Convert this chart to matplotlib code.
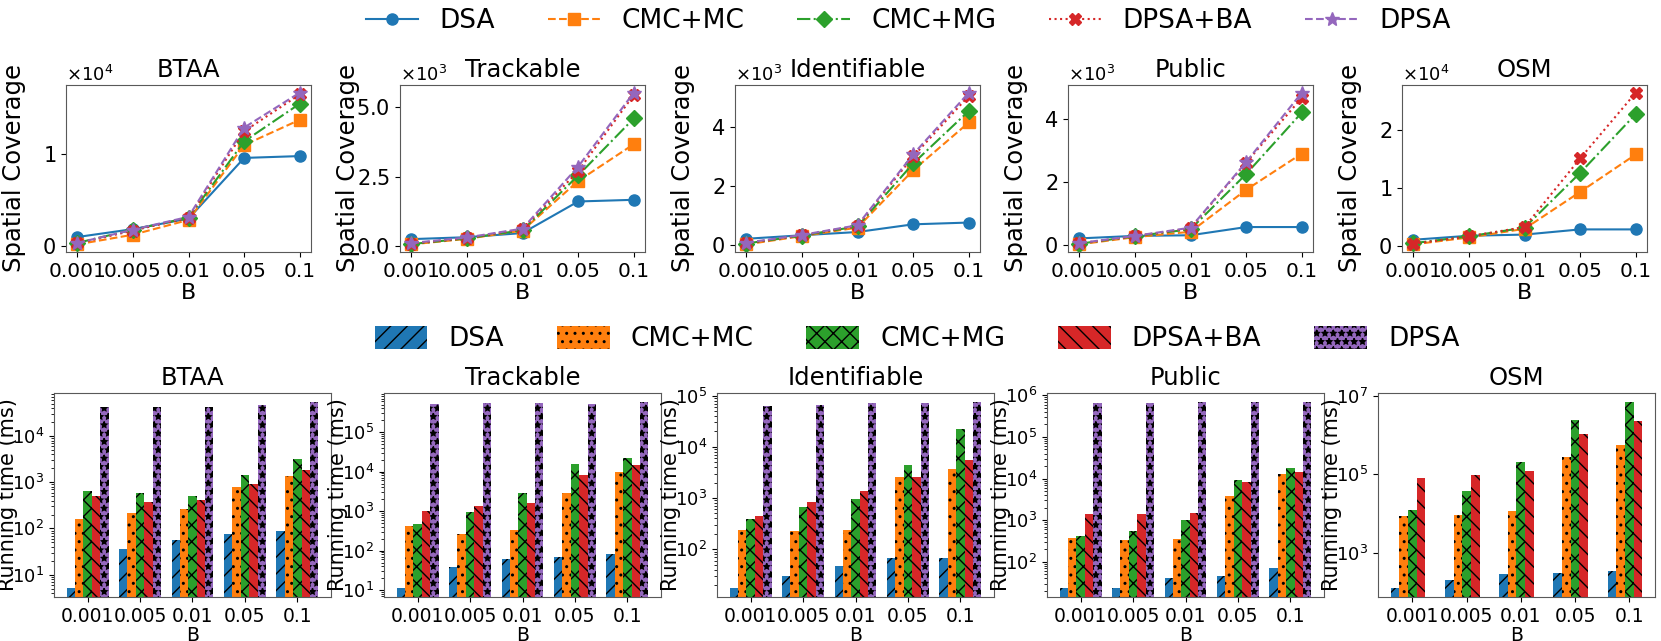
import numpy as np
import matplotlib
matplotlib.use('Agg')
import matplotlib.pyplot as plt

plt.rcParams['font.family'] = ['DejaVu Sans']
plt.rcParams['hatch.color'] = 'black'
plt.rcParams['hatch.linewidth'] = 1.0

B_labels = ['0.001', '0.005', '0.01', '0.05', '0.1']
methods = ['DSA', 'CMC+MC', 'CMC+MG', 'DPSA+BA', 'DPSA']
datasets = ['BTAA', 'Trackable', 'Identifiable', 'Public', 'OSM']

# spatial coverage (top row)
cov_btaa = [
    [1000, 1860, 3000, 9600, 9800],
    [200, 1250, 2860, 11000, 13750],
    [360, 1800, 3100, 11400, 15500],
    [300, 1700, 3100, 12500, 16500],
    [350, 1800, 3200, 12900, 16700],
]
cov_trackable = [
    [240, 310, 460, 1600, 1660],
    [50, 250, 550, 2340, 3670],
    [60, 270, 560, 2540, 4600],
    [80, 280, 600, 2700, 5450],
    [100, 300, 620, 2860, 5530],
]
cov_identifiable = [
    [210, 330, 440, 700, 760],
    [20, 300, 590, 2530, 4150],
    [50, 320, 630, 2760, 4540],
    [60, 330, 650, 3000, 5050],
    [80, 340, 670, 3070, 5160],
]
cov_public = [
    [210, 290, 310, 570, 570],
    [20, 250, 420, 1750, 2900],
    [40, 280, 500, 2250, 4200],
    [50, 280, 530, 2610, 4670],
    [60, 290, 550, 2630, 4830],
]
cov_osm = [
    [1000, 1700, 1900, 2800, 2800],
    [200, 1400, 2900, 9300, 15800],
    [400, 1600, 3100, 12600, 22800],
    [300, 1600, 3200, 15100, 26500],
    None,  # no DPSA on OSM
]
cov_yticks = [
    [0, 10000],
    [0, 2500, 5000],
    [0, 2000, 4000],
    [0, 2000, 4000],
    [0, 10000, 20000],
]

# running time in ms (bottom row)
rt_btaa = [
    [5.2, 36.5, 57, 76, 87],
    [163, 217, 260, 805, 1390],
    [650, 590, 514, 1440, 3260],
    [515, 375, 408, 920, 1850],
    [4.3e4, 4.3e4, 4.3e4, 4.8e4, 5.4e4],
]
rt_trackable = [
    [11.5, 37.7, 60, 68, 81],
    [416, 270, 335, 2810, 9600],
    [486, 977, 2810, 15700, 21900],
    [1020, 1340, 1570, 8220, 15100],
    [5.3e5, 5.5e5, 5.5e5, 5.3e5, 5.7e5],
]
rt_identifiable = [
    [17.7, 30, 47, 68, 68],
    [242, 230, 242, 2570, 3720],
    [390, 678, 970, 4330, 22400],
    [446, 836, 1350, 2570, 5500],
    [6.2e4, 6.6e4, 7.2e4, 7.2e4, 7.4e4],
]
rt_public = [
    [24, 24, 42, 47, 72],
    [384, 331, 363, 3910, 12900],
    [429, 545, 1000, 9290, 17700],
    [1445, 1420, 1500, 8320, 14450],
    [6.5e5, 6.5e5, 6.8e5, 6.8e5, 6.8e5],
]
rt_osm = [
    [127, 202, 287, 304, 348],
    [8550, 9080, 11700, 2.7e5, 5.46e5],
    [12400, 36200, 2.02e5, 2.45e6, 6.76e6],
    [8.1e4, 9.4e4, 1.19e5, 1.04e6, 2.22e6],
    None,
]

cov_all = [cov_btaa, cov_trackable, cov_identifiable, cov_public, cov_osm]
rt_all = [rt_btaa, rt_trackable, rt_identifiable, rt_public, rt_osm]

colors = ['#1f77b4', '#ff7f0e', '#2ca02c', '#d62728', '#9467bd']
linestyles = ['-', '--', '-.', ':', '--']
markers = ['o', 's', 'D', 'X', '*']
hatches = ['//', '..', 'xx', '\\\\', '**']

W, H = 1661, 641
fig = plt.figure(figsize=(W / 100, H / 100), dpi=100)


def px_axes(x0, y0, x1, y1):
    return fig.add_axes([x0 / W, 1 - y1 / H, (x1 - x0) / W, (y1 - y0) / H])


def gray_frame(ax):
    for s in ax.spines.values():
        s.set_color('0.35')


x = np.arange(len(B_labels))

# ---- top row: spatial coverage
top_left = [66, 400, 735, 1068, 1402]
line_handles = None
for k, name in enumerate(datasets):
    ax = px_axes(top_left[k], 85, top_left[k] + 245, 252)
    hs = []
    for i, m in enumerate(methods):
        vals = cov_all[k][i]
        if vals is None:
            continue
        h, = ax.plot(x, vals, color=colors[i], ls=linestyles[i], marker=markers[i],
                     markersize=8 if markers[i] != '*' else 10, lw=1.5, label=m)
        hs.append(h)
    if k == 0:
        line_handles = hs
    ax.set_xticks(x)
    ax.set_xticklabels(B_labels, fontsize=14.5)
    ax.set_yticks(cov_yticks[k])
    ax.tick_params(axis='y', labelsize=15)
    ax.ticklabel_format(axis='y', style='sci', scilimits=(0, 0), useMathText=True)
    ax.yaxis.get_offset_text().set_fontsize(13)
    ax.set_title(name, fontsize=17.5)
    ax.set_xlabel('B', fontsize=16, labelpad=2)
    ax.set_ylabel('Spatial Coverage', fontsize=17.5)
    ax.yaxis.set_label_coords(-0.165, 0.5)
    gray_frame(ax)

fig.legend(line_handles, methods, loc='center', bbox_to_anchor=(908 / W, 1 - 21 / H),
           ncol=5, frameon=False, fontsize=19, columnspacing=2.0)

# ---- bottom row: running time
bot_left = [54, 384, 717, 1047, 1378]
w = 0.16
bar_handles = None
for k, name in enumerate(datasets):
    ax = px_axes(bot_left[k], 393, bot_left[k] + 277, 597)
    ax.set_yscale('log')
    hs = []
    for i, m in enumerate(methods):
        vals = rt_all[k][i]
        if vals is None:
            continue
        b = ax.bar(x + (i - 2) * w, vals, w, color=colors[i], hatch=hatches[i], label=m)
        hs.append(b)
    if k == 0:
        bar_handles = hs
    ax.set_xticks(x)
    ax.set_xticklabels(B_labels, fontsize=13.5)
    ax.tick_params(axis='y', labelsize=13)
    ax.set_title(name, fontsize=17.5)
    ax.set_xlabel('B', fontsize=13.5, labelpad=0)
    ax.set_ylabel('Running time (ms)', fontsize=15)
    ax.yaxis.set_label_coords(-0.13, 0.5)
    gray_frame(ax)

fig.legend(bar_handles, methods, loc='center', bbox_to_anchor=(917 / W, 1 - 339 / H),
           ncol=5, frameon=False, fontsize=19, columnspacing=2.0, handleheight=1.0)

fig.savefig('out.png', dpi=100)
